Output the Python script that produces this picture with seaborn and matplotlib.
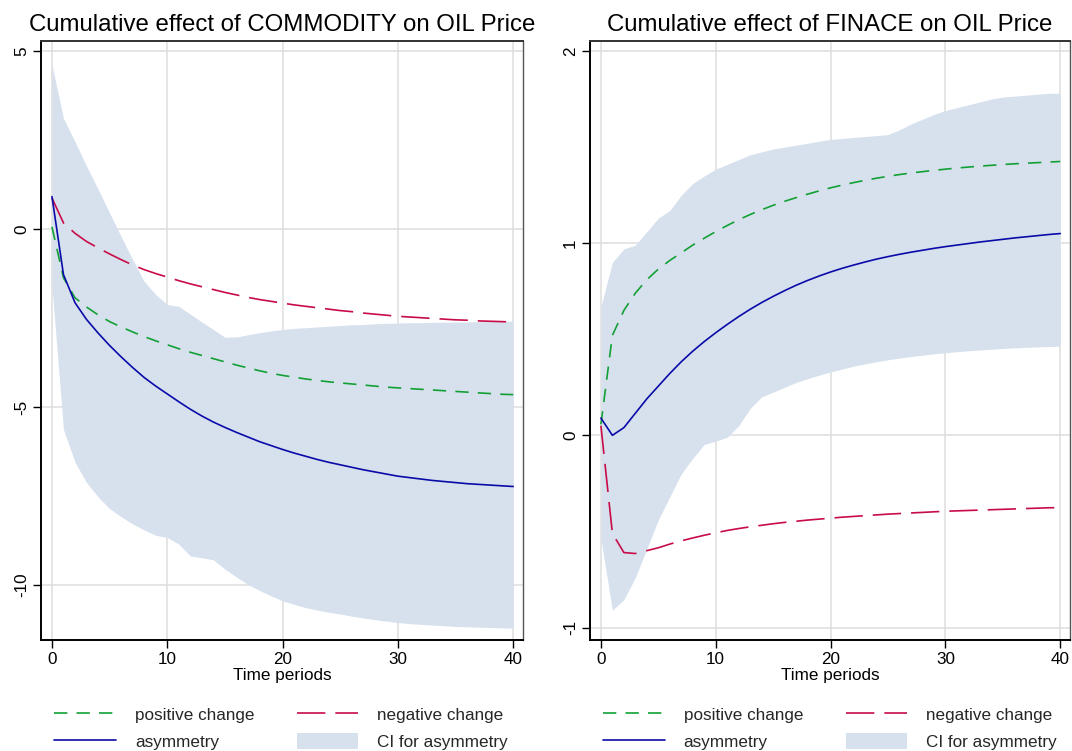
import matplotlib
matplotlib.use("Agg")
import matplotlib.pyplot as plt
import seaborn as sns

periods = list(range(41))

# COMMODITY panel
com_pos = [0.06, -1.37, -1.93, -2.19, -2.41, -2.60, -2.75, -2.89, -3.02, -3.14, -3.25,
           -3.36, -3.46, -3.55, -3.64, -3.73, -3.82, -3.90, -3.98, -4.05, -4.11,
           -4.16, -4.21, -4.25, -4.29, -4.32, -4.35, -4.38, -4.41, -4.44, -4.46,
           -4.48, -4.50, -4.52, -4.54, -4.56, -4.58, -4.60, -4.62, -4.64, -4.65]
com_neg = [0.87, 0.17, -0.12, -0.35, -0.53, -0.70, -0.86, -1.01, -1.14, -1.25, -1.35,
           -1.45, -1.54, -1.62, -1.70, -1.78, -1.85, -1.92, -1.98, -2.03, -2.08,
           -2.13, -2.17, -2.21, -2.25, -2.29, -2.32, -2.36, -2.39, -2.42, -2.45,
           -2.47, -2.49, -2.51, -2.53, -2.55, -2.56, -2.58, -2.59, -2.60, -2.61]
com_asym = [0.91, -1.28, -2.07, -2.54, -2.92, -3.27, -3.59, -3.89, -4.17, -4.41, -4.63,
            -4.85, -5.06, -5.25, -5.42, -5.57, -5.71, -5.84, -5.97, -6.08, -6.19,
            -6.29, -6.38, -6.47, -6.55, -6.62, -6.69, -6.76, -6.82, -6.88, -6.94,
            -6.98, -7.02, -7.06, -7.09, -7.12, -7.15, -7.17, -7.19, -7.21, -7.23]
com_lo = [-1.61, -5.63, -6.55, -7.12, -7.52, -7.85, -8.08, -8.28, -8.45, -8.60, -8.66,
          -8.85, -9.18, -9.23, -9.29, -9.55, -9.77, -9.98, -10.15, -10.30, -10.44,
          -10.54, -10.63, -10.70, -10.76, -10.81, -10.87, -10.92, -10.97, -11.01, -11.05,
          -11.08, -11.10, -11.12, -11.14, -11.16, -11.17, -11.18, -11.19, -11.20, -11.21]
com_hi = [4.61, 3.11, 2.45, 1.77, 1.12, 0.45, -0.21, -0.86, -1.47, -1.84, -2.12,
          -2.17, -2.39, -2.61, -2.82, -3.04, -3.03, -2.97, -2.91, -2.86, -2.82,
          -2.79, -2.77, -2.75, -2.73, -2.71, -2.69, -2.68, -2.66, -2.65, -2.64,
          -2.63, -2.63, -2.62, -2.62, -2.61, -2.61, -2.60, -2.60, -2.59, -2.59]

# FINACE panel
fin_pos = [0.057, 0.52, 0.65, 0.74, 0.81, 0.865, 0.91, 0.95, 0.99, 1.026, 1.06,
           1.092, 1.122, 1.149, 1.174, 1.197, 1.218, 1.237, 1.255, 1.272, 1.288,
           1.302, 1.315, 1.327, 1.338, 1.348, 1.357, 1.365, 1.372, 1.379, 1.385,
           1.391, 1.396, 1.401, 1.405, 1.409, 1.413, 1.416, 1.419, 1.422, 1.425]
fin_neg = [0.05, -0.51, -0.61, -0.615, -0.60, -0.585, -0.566, -0.549, -0.534, -0.52, -0.507,
           -0.495, -0.485, -0.476, -0.468, -0.46, -0.453, -0.447, -0.441, -0.436, -0.431,
           -0.426, -0.422, -0.418, -0.414, -0.41, -0.407, -0.404, -0.401, -0.398, -0.395,
           -0.393, -0.391, -0.389, -0.387, -0.385, -0.383, -0.381, -0.379, -0.377, -0.376]
fin_asym = [0.09, 0.00, 0.04, 0.115, 0.19, 0.256, 0.322, 0.383, 0.438, 0.488, 0.534,
            0.577, 0.618, 0.656, 0.691, 0.723, 0.753, 0.781, 0.806, 0.829, 0.85,
            0.869, 0.886, 0.902, 0.917, 0.93, 0.942, 0.953, 0.963, 0.973, 0.982,
            0.99, 0.998, 1.006, 1.013, 1.02, 1.027, 1.033, 1.039, 1.045, 1.05]
fin_lo = [-0.54, -0.91, -0.855, -0.74, -0.59, -0.44, -0.32, -0.20, -0.12, -0.047, -0.03,
          -0.01, 0.05, 0.14, 0.20, 0.225, 0.25, 0.275, 0.295, 0.313, 0.33,
          0.345, 0.36, 0.372, 0.383, 0.393, 0.402, 0.41, 0.417, 0.424, 0.43,
          0.435, 0.44, 0.444, 0.448, 0.452, 0.455, 0.458, 0.46, 0.462, 0.464]
fin_hi = [0.67, 0.90, 0.97, 0.99, 1.06, 1.13, 1.17, 1.25, 1.31, 1.35, 1.385,
          1.41, 1.435, 1.46, 1.475, 1.49, 1.50, 1.51, 1.52, 1.53, 1.54,
          1.545, 1.55, 1.555, 1.56, 1.565, 1.59, 1.62, 1.645, 1.67, 1.69,
          1.705, 1.72, 1.735, 1.75, 1.76, 1.765, 1.77, 1.775, 1.78, 1.78]

titles = ["Cumulative effect of COMMODITY on OIL Price",
          "Cumulative effect of FINACE on OIL Price"]
legend_labels = ["positive change", "negative change", "asymmetry", "CI for asymmetry"]
x_label = "Time periods"
x_ticks = [0, 10, 20, 30, 40]
com_yticks = [-10, -5, 0, 5]
fin_yticks = [-1, 0, 1, 2]

sns.set_theme(style="whitegrid")
plt.rcParams['font.family'] = ['Liberation Sans', 'DejaVu Sans']

GREEN = '#12a035'
RED = '#c80c48'
BLUE = '#0a0aa8'
CIC = '#d7e1ee'
GRID = '#dedede'
FS = 12.3

fig = plt.figure(figsize=(10.72, 7.51), dpi=100)
fig.patch.set_facecolor('white')
ax1 = fig.add_axes([41 / 1072, 111 / 751, 482 / 1072, 599 / 751])
ax2 = fig.add_axes([590 / 1072, 111 / 751, 480 / 1072, 599 / 751])


def draw(ax, title, pos, neg, asym, lo, hi, ylim, yticks):
    ci = ax.fill_between(periods, lo, hi, color=CIC, lw=0, zorder=1)
    sns.lineplot(x=periods, y=pos, ax=ax, color=GREEN, lw=1.2,
                 linestyle=(0, (8, 5.5)), zorder=3, legend=False)
    sns.lineplot(x=periods, y=neg, ax=ax, color=RED, lw=1.2,
                 linestyle=(0, (17, 6)), zorder=3, legend=False)
    sns.lineplot(x=periods, y=asym, ax=ax, color=BLUE, lw=1.2,
                 zorder=4, legend=False)
    l_pos, l_neg, l_asym = ax.lines[-3:]
    ax.set_xlim(-0.95, 40.85)
    ax.set_ylim(*ylim)
    ax.set_xticks(x_ticks)
    ax.set_yticks(yticks)
    ax.set_xticklabels([str(v) for v in x_ticks])
    ax.set_yticklabels([str(v) for v in yticks], rotation=90, va='center')
    ax.grid(True, color=GRID, lw=1.1)
    ax.set_axisbelow(True)
    for s in ax.spines.values():
        s.set_color('black')
        s.set_linewidth(1.4)
    ax.spines['top'].set_color('#333333')
    ax.spines['right'].set_color('#555555')
    ax.spines['right'].set_linewidth(1.0)
    ax.tick_params(axis='both', which='major', direction='out', length=5.5, width=1,
                   color='black', labelsize=FS, labelcolor='black', pad=3,
                   left=True, bottom=True)
    ax.set_title(title, fontsize=17.3, pad=7, color='black')
    ax.set_xlabel(x_label, fontsize=FS, labelpad=1, color='black')
    ax.set_ylabel('')
    ax.legend([l_pos, l_asym, l_neg, ci],
              [legend_labels[0], legend_labels[2], legend_labels[1], legend_labels[3]],
              ncol=2, loc='upper left', bbox_to_anchor=(0.028, -0.11),
              frameon=False, borderaxespad=0, borderpad=0,
              handlelength=3.6, handletextpad=1.1, columnspacing=2.5,
              labelspacing=0.62, handleheight=1.05, fontsize=FS)


draw(ax1, titles[0], com_pos, com_neg, com_asym, com_lo, com_hi, (-11.54, 5.28), com_yticks)
draw(ax2, titles[1], fin_pos, fin_neg, fin_asym, fin_lo, fin_hi, (-1.065, 2.052), fin_yticks)

fig.savefig("out.png", dpi=100, facecolor='white')
